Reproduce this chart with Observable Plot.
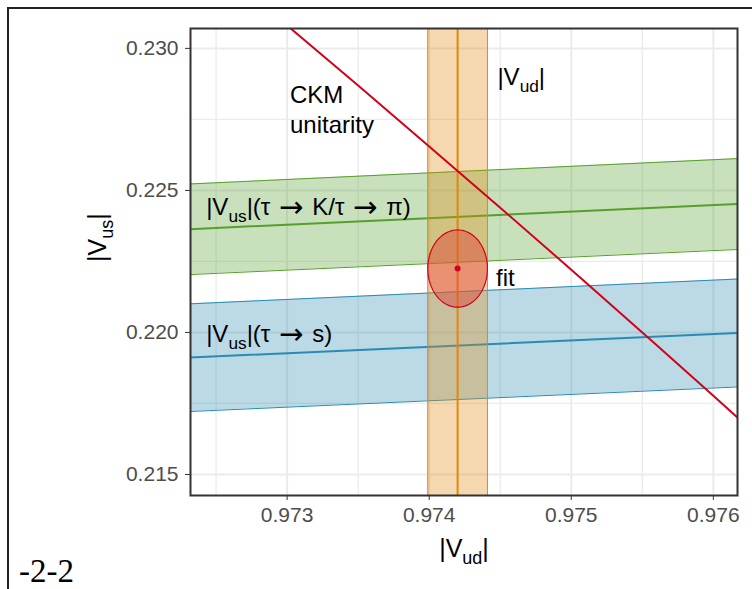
<!DOCTYPE html>
<html>
<head>
<meta charset="utf-8">
<script src="https://cdn.jsdelivr.net/npm/d3@7"></script>
<script src="https://cdn.jsdelivr.net/npm/@observablehq/plot@0.6"></script>
<style>
  body { margin: 0; background: #fff; font-family: "Liberation Sans", Arial, sans-serif; }
  #wrap { position: relative; width: 752px; height: 589px; overflow: hidden; }
  #outer { position: absolute; left: 7px; top: 7px; width: 900px; height: 700px;
           border-left: 2px solid #222; border-top: 2px solid #222; }
  #chart { position: absolute; left: 0; top: 0; }
  #note { position: absolute; left: 19px; top: 556px; font-family: "Liberation Serif", "DejaVu Serif", serif;
          font-size: 33px; line-height: 30px; color: #000; white-space: nowrap; }
</style>
</head>
<body>
<div id="wrap">
  <div id="outer"></div>
  <div id="chart"></div>
  <div id="note">-2-2</div>
</div>
<script>
// ---- data ----
const xDomain = [0.97232, 0.97617];
const yDomain = [0.21426, 0.23070];
const xTicks = [0.973, 0.974, 0.975, 0.976];
const xMinor = [0.9725, 0.9735, 0.9745, 0.9755];
const yTicks = [0.215, 0.220, 0.225, 0.230];
const yMinor = [0.2175, 0.2225, 0.2275];

// ratio bands (ends of each line)
const bandX    = [0.9722, 0.9763];
const greenLo  = [0.22201, 0.22295];
const greenMid = [0.22361, 0.22455];
const greenHi  = [0.22520, 0.22615];
const blueLo   = [0.21719, 0.21811];
const blueMid  = [0.21909, 0.22001];
const blueHi   = [0.22098, 0.22191];

// |Vud| band
const vudLo = 0.97399, vudMid = 0.97420, vudHi = 0.97441;

// CKM unitarity curve
const ckmX = [0.9729, 0.9735, 0.9740, 0.9745, 0.9750, 0.9755, 0.9760, 0.9763];
const ckmY = [0.23123, 0.22869, 0.22655, 0.22439, 0.22221, 0.22000, 0.21777, 0.21642];

// fit ellipse
const fitX = 0.97420, fitY = 0.22225, fitRx = 0.00021, fitRy = 0.00136;

// labels
const labelText = ["CKM\nunitarity", "|V_{ud}|", "|V_{us}|(τ → K/τ → π)", "fit", "|V_{us}|(τ → s)"];
const labelX    = [0.97302, 0.97448, 0.97243, 0.97447, 0.97243];
const labelY    = [0.22788, 0.22904, 0.22446, 0.22196, 0.21999];
const xTitle = "|V_{ud}|";
const yTitle = "|V_{us}|";

// ---- tables ----
const green = bandX.map((x, i) => ({x, lo: greenLo[i], mid: greenMid[i], hi: greenHi[i]}));
const blue  = bandX.map((x, i) => ({x, lo: blueLo[i], mid: blueMid[i], hi: blueHi[i]}));
const ckm = ckmX.map((x, i) => ({x, y: ckmY[i]}));
const labels = labelText.map((t, i) => ({text: t, x: labelX[i], y: labelY[i]}));
const ellipse = d3.range(0, 97).map(i => {
  const t = 2 * Math.PI * i / 96;
  return {x: fitX + fitRx * Math.cos(t), y: fitY + fitRy * Math.sin(t)};
});

const GREEN = "#55A02A", BLUE = "#2A8BB2", ORANGE = "#E0880C", RED = "#D0021B";
const GRID = "#EBEBEB";

const plot = Plot.plot({
  width: 752, height: 589,
  marginLeft: 190, marginRight: 15, marginTop: 28, marginBottom: 94,
  style: {fontSize: "21px", fontFamily: "Liberation Sans, Arial, sans-serif", color: "#333", background: "transparent"},
  x: {domain: xDomain, ticks: xTicks, tickFormat: d3.format(".3f"), tickSize: 5, tickPadding: 7, label: null},
  y: {domain: yDomain, ticks: yTicks, tickFormat: d3.format(".3f"), tickSize: 5, tickPadding: 7, label: null},
  marks: [
    Plot.ruleX(xMinor, {stroke: GRID, strokeWidth: 1.3}),
    Plot.ruleY(yMinor, {stroke: GRID, strokeWidth: 1.3}),
    Plot.ruleX(xTicks, {stroke: GRID, strokeWidth: 2}),
    Plot.ruleY(yTicks, {stroke: GRID, strokeWidth: 2}),

    // green band
    Plot.areaY(green, {x: "x", y1: "lo", y2: "hi", fill: GREEN, fillOpacity: 0.32, clip: true}),
    Plot.line(green, {x: "x", y: "lo", stroke: GREEN, strokeWidth: 1, clip: true}),
    Plot.line(green, {x: "x", y: "hi", stroke: GREEN, strokeWidth: 1, clip: true}),
    Plot.line(green, {x: "x", y: "mid", stroke: GREEN, strokeWidth: 2, clip: true}),

    // blue band
    Plot.areaY(blue, {x: "x", y1: "lo", y2: "hi", fill: BLUE, fillOpacity: 0.32, clip: true}),
    Plot.line(blue, {x: "x", y: "lo", stroke: BLUE, strokeWidth: 1, clip: true}),
    Plot.line(blue, {x: "x", y: "hi", stroke: BLUE, strokeWidth: 1, clip: true}),
    Plot.line(blue, {x: "x", y: "mid", stroke: BLUE, strokeWidth: 2, clip: true}),

    // Vud band
    Plot.rect([{x1: vudLo, x2: vudHi}], {x1: "x1", x2: "x2", y1: () => yDomain[0], y2: () => yDomain[1],
      fill: ORANGE, fillOpacity: 0.33}),
    Plot.ruleX([vudLo, vudHi], {stroke: ORANGE, strokeWidth: 1}),
    Plot.ruleX([vudMid], {stroke: ORANGE, strokeWidth: 2}),

    // fit ellipse
    Plot.line(ellipse, {x: "x", y: "y", fill: "#E04A3A", fillOpacity: 0.5, stroke: RED, strokeWidth: 1.2}),
    Plot.dot([{x: fitX, y: fitY}], {x: "x", y: "y", r: 3, fill: RED, stroke: "none"}),

    // CKM unitarity
    Plot.line(ckm, {x: "x", y: "y", stroke: RED, strokeWidth: 2, curve: "natural", clip: true}),

    // labels
    Plot.text(labels, {x: "x", y: "y", text: "text", textAnchor: "start", lineAnchor: "middle",
      lineHeight: 1.25, fontSize: 24, fill: "#000"}),
    Plot.text([xTitle], {text: d => d, frameAnchor: "bottom", dy: 53, lineAnchor: "middle", fontSize: 25, fill: "#000"}),
    Plot.text([yTitle], {text: d => d, frameAnchor: "left", dx: -93, rotate: -90, lineAnchor: "middle", fontSize: 25, fill: "#000"}),

    Plot.frame({stroke: "#333", strokeWidth: 2})
  ]
});

// tick label colour
plot.querySelectorAll('[aria-label^="x-axis"] text, [aria-label^="y-axis"] text').forEach(t => t.setAttribute("fill", "#4D4D4D"));

// rich text: "_{...}" -> subscript tspans; arrows drawn larger, like a math arrow
plot.querySelectorAll("text").forEach(t => {
  const s = t.textContent;
  if (!s.includes("_{") && !s.includes("→")) return;
  const holder = t.closest("[font-size]");
  const fs = holder ? parseFloat(holder.getAttribute("font-size")) : 24;
  const shift = 0.28 * fs;
  const aShift = 0.07 * fs;
  const parts = s.split(/(_\{[^}]*\}|→)/).filter(p => p.length);
  while (t.firstChild) t.removeChild(t.firstChild);
  let pending = 0, afterArrow = false;
  parts.forEach(p => {
    const ts = document.createElementNS("http://www.w3.org/2000/svg", "tspan");
    if (p.startsWith("_{")) {
      ts.textContent = p.slice(2, -1);
      ts.setAttribute("font-size", (0.72 * fs) + "px");
      ts.setAttribute("dy", shift - pending);
      pending = shift;
    } else if (p === "→") {
      ts.textContent = p;
      ts.setAttribute("font-family", "DejaVu Sans");
      ts.setAttribute("font-size", (1.22 * fs) + "px");
      ts.setAttribute("dx", 2);
      ts.setAttribute("dy", aShift - pending);
      pending = aShift;
      afterArrow = true;
    } else {
      ts.textContent = p;
      if (pending) ts.setAttribute("dy", -pending);
      if (afterArrow) ts.setAttribute("dx", 2);
      pending = 0;
      afterArrow = false;
    }
    t.appendChild(ts);
  });
});

document.getElementById("chart").appendChild(plot);
</script>
</body>
</html>
